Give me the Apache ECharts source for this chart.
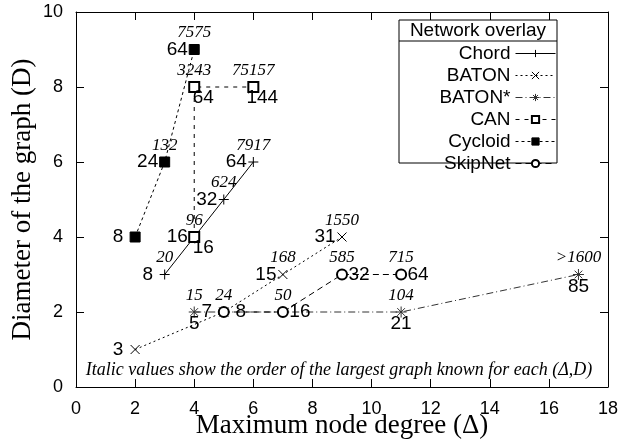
<!DOCTYPE html>
<html>
<head>
<meta charset="utf-8">
<script src="https://cdn.jsdelivr.net/npm/echarts@6/dist/echarts.min.js"></script>
<style>
  html, body { margin: 0; padding: 0; background: #fff; }
  #chart-container { width: 625px; height: 444px; }
</style>
</head>
<body>
<div id="chart-container"></div>
<script>
var dom = document.getElementById("chart-container");
var myChart = echarts.init(dom, null, { renderer: "canvas" });

// axis ticks
var xTicks = [0, 2, 4, 6, 8, 10, 12, 14, 16, 18];
var yTicks = [0, 2, 4, 6, 8, 10];

// (degree, diameter) points, node count label, italic order label
var chordX = [3, 4, 5, 6];
var chordY = [3, 4, 5, 6];
var chordNodes = ["8", "16", "32", "64"];
var chordOrder = ["20", "", "624", "7917"];

var batonX = [2, 5, 7, 9];
var batonY = [1, 2, 3, 4];
var batonNodes = ["3", "7", "15", "31"];
var batonOrder = ["", "24", "168", "1550"];

var batonStarX = [4, 11, 17];
var batonStarY = [2, 2, 3];
var batonStarNodes = ["5", "21", "85"];
var batonStarOrder = ["15", "104", ">1600"];

var canX = [4, 4, 6];
var canY = [4, 8, 8];
var canNodes = ["16", "64", "144"];
var canOrder = ["96", "3243", "75157"];

var cycloidX = [2, 3, 4];
var cycloidY = [4, 6, 9];
var cycloidNodes = ["8", "24", "64"];
var cycloidOrder = ["", "132", "7575"];

var skipNetX = [5, 7, 9, 11];
var skipNetY = [2, 2, 3, 3];
var skipNetNodes = ["8", "16", "32", "64"];
var skipNetOrder = ["", "50", "585", "715"];

var networks = [
  { name: "Chord", x: chordX, y: chordY, nodes: chordNodes, order: chordOrder },
  { name: "BATON", x: batonX, y: batonY, nodes: batonNodes, order: batonOrder },
  { name: "BATON*", x: batonStarX, y: batonStarY, nodes: batonStarNodes, order: batonStarOrder },
  { name: "CAN", x: canX, y: canY, nodes: canNodes, order: canOrder },
  { name: "Cycloid", x: cycloidX, y: cycloidY, nodes: cycloidNodes, order: cycloidOrder },
  { name: "SkipNet", x: skipNetX, y: skipNetY, nodes: skipNetNodes, order: skipNetOrder }
];

// look of each series
var PLUS = "path://M0,5H10M5,0V10";
var CROSS = "path://M0,0L10,10M10,0L0,10";
var STAR = "path://M0,5H10M5,0V10M1.5,1.5L8.5,8.5M8.5,1.5L1.5,8.5";
var offsets = {
  left: [-17, 0],
  right: [17, 0],
  below: [0, 12],
  belowRight: [9, 11]
};
var looks = {
  "Chord": { symbol: PLUS, size: 10, dash: "solid", color: "#000", side: ["left", "belowRight", "left", "left"] },
  "BATON": { symbol: CROSS, size: 9, dash: [2, 3], color: "#000", side: ["left", "left", "left", "left"] },
  "BATON*": { symbol: STAR, size: 11, dash: [7, 3, 1, 3], color: "#333", side: ["below", "below", "below"] },
  "CAN": { symbol: "emptyRect", size: 10, dash: [4, 5], color: "#000", side: ["left", "belowRight", "belowRight"] },
  "Cycloid": { symbol: "rect", size: 10, dash: [3, 3], color: "#000", side: ["left", "left", "left"] },
  "SkipNet": { symbol: "emptyCircle", size: 10, dash: [6, 4], color: "#000", side: ["right", "right", "right", "right"] }
};

var sansFont = "Liberation Sans";
var serifFont = "Liberation Serif";

var series = networks.map(function (net) {
  var look = looks[net.name];
  return {
    name: net.name,
    type: "line",
    symbol: look.symbol,
    symbolSize: look.size,
    color: look.color,
    lineStyle: { color: look.color, width: 1, type: look.dash },
    itemStyle: { color: look.color, borderColor: look.color, borderWidth: 1 },
    label: {
      show: true,
      position: "inside",
      fontFamily: sansFont,
      fontSize: 19,
      color: "#000"
    },
    emphasis: { disabled: true },
    data: net.x.map(function (xv, i) {
      return {
        value: [xv, net.y[i]],
        label: { formatter: net.nodes[i], offset: offsets[look.side[i]] }
      };
    })
  };
});

// italic order labels above the points
var orderData = [];
networks.forEach(function (net) {
  net.order.forEach(function (txt, i) {
    if (txt) orderData.push({ value: [net.x[i], net.y[i]], label: { formatter: txt } });
  });
});
series.push({
  name: "order",
  type: "scatter",
  symbolSize: 0,
  silent: true,
  itemStyle: { color: "#000", opacity: 1 },
  label: {
    show: true,
    position: "top",
    distance: 8,
    fontFamily: serifFont,
    fontStyle: "italic",
    fontSize: 17,
    color: "#000",
    opacity: 1
  },
  emphasis: { disabled: true },
  data: orderData,
  z: 5
});

var axisBase = {
  type: "value",
  nameMoveOverlap: false,
  axisLine: { show: true, onZero: false, lineStyle: { color: "#000", width: 1 } },
  axisTick: { show: true, inside: true, length: 8, lineStyle: { color: "#000" } },
  splitLine: { show: false }
};

var option = {
  animation: false,
  backgroundColor: "#fff",
  grid: { left: 76, right: 17, top: 12, bottom: 57, outerBoundsMode: "none", containLabel: false },
  xAxis: [
    Object.assign({}, axisBase, {
      position: "bottom",
      min: xTicks[0],
      max: xTicks[xTicks.length - 1],
      interval: xTicks[1] - xTicks[0],
      name: "Maximum node degree (\u0394)",
      nameLocation: "middle",
      nameGap: 25,
      nameTextStyle: { fontFamily: serifFont, fontSize: 27, color: "#000" },
      axisLabel: { margin: 13, fontFamily: sansFont, fontSize: 18, color: "#000" }
    }),
    Object.assign({}, axisBase, {
      position: "top",
      min: xTicks[0],
      max: xTicks[xTicks.length - 1],
      interval: xTicks[1] - xTicks[0],
      axisLabel: { show: false }
    })
  ],
  yAxis: [
    Object.assign({}, axisBase, {
      position: "left",
      min: yTicks[0],
      max: yTicks[yTicks.length - 1],
      interval: yTicks[1] - yTicks[0],
      name: "Diameter of the graph (D)",
      nameLocation: "middle",
      nameGap: 40,
      nameTextStyle: { fontFamily: serifFont, fontSize: 27, color: "#000" },
      axisLabel: { margin: 13, fontFamily: sansFont, fontSize: 18, color: "#000" }
    }),
    Object.assign({}, axisBase, {
      position: "right",
      min: yTicks[0],
      max: yTicks[yTicks.length - 1],
      interval: yTicks[1] - yTicks[0],
      axisLabel: { show: false }
    })
  ],
  legend: {
    data: networks.map(function (n) { return n.name; }),
    orient: "vertical",
    align: "right",
    right: 69,
    top: 44,
    padding: 0,
    itemWidth: 40,
    itemHeight: 9,
    itemGap: 3,
    lineStyle: { width: 1 },
    itemStyle: { borderWidth: 1 },
    textStyle: { fontFamily: sansFont, fontSize: 19, color: "#000", lineHeight: 17, padding: [0, 0, 0, 0] }
  },
  graphic: [
    {
      type: "rect",
      shape: { x: 399, y: 20, width: 158, height: 143 },
      style: { fill: "#fff", stroke: "#000", lineWidth: 1 },
      z: 1
    },
    {
      type: "line",
      shape: { x1: 399, y1: 41, x2: 557, y2: 41 },
      style: { stroke: "#000", lineWidth: 1 },
      z: 2
    },
    {
      type: "text",
      x: 478,
      y: 31,
      style: {
        text: "Network overlay",
        font: "19px " + sansFont,
        fill: "#000",
        align: "center",
        verticalAlign: "middle"
      },
      z: 2
    },
    {
      type: "text",
      x: 339,
      y: 370,
      style: {
        text: "Italic values show the order of the largest graph known for each (\u0394,D)",
        font: "italic 18px " + serifFont,
        fill: "#000",
        align: "center",
        verticalAlign: "middle"
      },
      z: 2
    }
  ],
  series: series
};

myChart.setOption(option);
window.addEventListener("resize", myChart.resize);
</script>
</body>
</html>
